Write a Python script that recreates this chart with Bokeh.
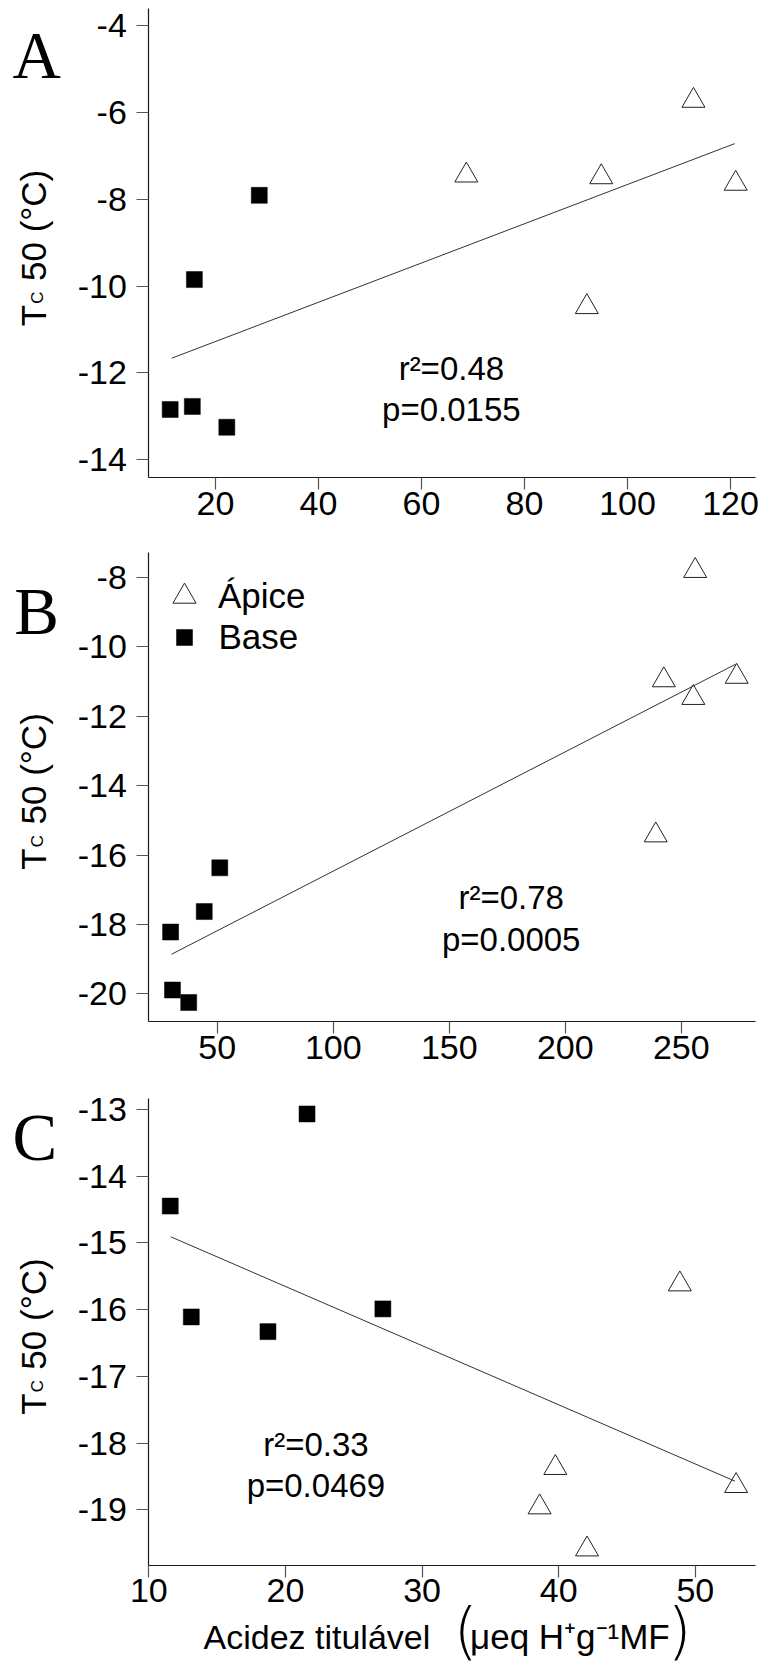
import math
from bokeh.plotting import figure
from bokeh.layouts import column
from bokeh.models import (FixedTicker, Label, Legend, LegendItem, Range1d,
                          LinearAxis, CustomJSTickFormatter)
from bokeh.embed import file_html
from bokeh.resources import INLINE

# ---------------- data ----------------
# Panel A
a_base_x = [28.5, 15.9, 11.2, 15.5, 22.2]
a_base_y = [-7.91, -9.85, -12.84, -12.77, -13.25]
a_apice_x = [68.7, 94.9, 112.8, 121.0, 92.1]
a_apice_y = [-7.45, -7.49, -5.73, -7.64, -10.48]
a_fit_x = [11.5, 120.8]
a_fit_y = [-11.66, -6.72]
a_xlim = (7.05, 124.85)
a_ylim = (-14.414, -3.615)
a_xticks = [20, 40, 60, 80, 100, 120]
a_yticks = [-14, -12, -10, -8, -6, -4]
a_stats = ["r²=0.48", "p=0.0155"]
a_stats_x = 65.8
a_stats_y = [-12.17, -13.11]

# Panel B
b_base_x = [51.1, 44.4, 29.9, 30.7, 37.7]
b_base_y = [-16.37, -17.63, -18.22, -19.89, -20.25]
b_apice_x = [256.0, 242.5, 255.2, 273.9, 239.0]
b_apice_y = [-7.81, -10.96, -11.47, -10.86, -15.43]
b_fit_x = [30.3, 273.5]
b_fit_y = [-18.86, -10.50]
b_xlim = (20.5, 282.0)
b_ylim = (-20.798, -7.268)
b_xticks = [50, 100, 150, 200, 250]
b_yticks = [-20, -18, -16, -14, -12, -10, -8]
b_stats = ["r²=0.78", "p=0.0005"]
b_stats_x = 176.7
b_stats_y = [-17.55, -18.78]

# Panel C
c_base_x = [21.58, 11.57, 13.11, 18.72, 27.13]
c_base_y = [-13.07, -14.45, -16.11, -16.33, -15.99]
c_apice_x = [48.86, 39.75, 38.6, 42.07, 52.98]
c_apice_y = [-15.62, -18.37, -18.96, -19.59, -18.64]
c_fit_x = [11.61, 52.9]
c_fit_y = [-14.91, -18.57]
c_xlim = (10.0, 54.4)
c_ylim = (-19.83, -12.84)
c_xticks = [10, 20, 30, 40, 50]
c_yticks = [-19, -18, -17, -16, -15, -14, -13]
c_stats = ["r²=0.33", "p=0.0469"]
c_stats_x = 22.23
c_stats_y = [-18.19, -18.81]

legend_labels = ["Ápice", "Base"]
x_title = "Acidez titulável"
x_unit = "μeq H⁺g⁻¹MF"

SANS = "Liberation Sans"
SERIF = "Liberation Serif"
THIN = "'DejaVu Sans ExtraLight', 'DejaVu Sans Light', 'Liberation Sans'"
W = 763
PLOT_L, PLOT_R = 148.3, 755.0   # plot-area edges on the page (px)


class Panel:
    """One stacked figure; the frame covers its whole canvas so that every
    text (letters, axis titles) can be placed inside it."""

    def __init__(self, top, height, box_top, box_bot, xlim, ylim,
                 xticks, yticks):
        self.top, self.h = top, height
        self.xlim, self.ylim = xlim, ylim
        self.box_bot = box_bot
        self.ux = (xlim[1] - xlim[0]) / (PLOT_R - PLOT_L)
        self.uy = (ylim[1] - ylim[0]) / (box_bot - box_top)
        bt, bb = box_top - top, box_bot - top
        xr = Range1d(xlim[0] - PLOT_L * self.ux,
                     xlim[1] + (W - PLOT_R) * self.ux)
        yr = Range1d(ylim[0] - (height - bb) * self.uy,
                     ylim[1] + bt * self.uy)
        p = figure(width=W, height=height, x_range=xr, y_range=yr,
                   x_axis_location=None, y_axis_location=None,
                   min_border=0, output_backend="svg", toolbar_location=None,
                   background_fill_color="white", border_fill_color="white")
        p.outline_line_color = None
        p.grid.visible = False
        fmt = CustomJSTickFormatter(code="return String(tick);")
        xa = LinearAxis(fixed_location=ylim[0], bounds=xlim,
                        ticker=FixedTicker(ticks=xticks), formatter=fmt)
        ya = LinearAxis(fixed_location=xlim[0], bounds=ylim,
                        ticker=FixedTicker(ticks=yticks), formatter=fmt)
        for ax in (xa, ya):
            ax.axis_line_color = "#1a1a1a"
            ax.axis_line_width = 1.2
            ax.major_tick_line_color = "#555555"
            ax.major_tick_line_width = 1.2
            ax.major_tick_out = 12
            ax.major_tick_in = 0
            ax.minor_tick_line_color = None
            ax.major_label_text_font = SANS
            ax.major_label_text_font_size = "34px"
            ax.major_label_text_color = "black"
        ya.major_label_standoff = 10
        xa.major_label_standoff = 2
        p.add_layout(xa, "below")
        p.add_layout(ya, "left")
        self.p = p
        self.center = (box_top + box_bot) / 2

    def text(self, px, py, text, size, font=SANS, angle=0.0, align="left",
             shift=0.35):
        """Place text whose baseline starts at page point (px, py)."""
        d = shift * size
        if angle:
            px -= d
        else:
            py -= d
        self.p.add_layout(Label(x=px, y=self.h - (py - self.top),
                                x_units="screen", y_units="screen",
                                text=text, angle=angle, text_font=font,
                                text_font_size=f"{size}px", text_align=align,
                                text_baseline="alphabetic",
                                text_color="black"))

    def page_xy(self, x, y):
        return (PLOT_L + (x - self.xlim[0]) / self.ux,
                self.box_bot - (y - self.ylim[0]) / self.uy)

    def draw(self, base_x, base_y, apice_x, apice_y, fit_x, fit_y,
             stats, stats_x, stats_y, letter, letter_xy):
        p = self.p
        self.sq = p.scatter(base_x, base_y, marker="square", size=16,
                            fill_color="black", line_color="black",
                            line_width=0.5)
        self.tri = p.scatter(apice_x, apice_y, marker="triangle", size=23,
                             fill_color="white", line_color="#222222",
                             line_width=1)
        p.line(fit_x, fit_y, line_color="#333333", line_width=1)
        for t, yy in zip(stats, stats_y):
            px, py = self.page_xy(stats_x, yy)
            self.text(px, py, t, 33, align="center")
        self.text(letter_xy[0], letter_xy[1], letter, 67, font=SERIF,
                  shift=0.45)
        # rotated y title  T_C 50 (°C)
        s = self.center + 82.9
        rot = math.pi / 2
        self.text(45.0, s, "T", 35, angle=rot)
        self.text(43.3, s - 22.5, "C", 17, angle=rot)
        self.text(45.0, s - 45.2, "50 (°C)", 35, angle=rot)


A = Panel(0, 537, 8.3, 477.3, a_xlim, a_ylim, a_xticks, a_yticks)
A.draw(a_base_x, a_base_y, a_apice_x, a_apice_y, a_fit_x, a_fit_y,
       a_stats, a_stats_x, a_stats_y, "A", (12, 85))

B = Panel(537, 551, 551.5, 1021.0, b_xlim, b_ylim, b_xticks, b_yticks)
B.draw(b_base_x, b_base_y, b_apice_x, b_apice_y, b_fit_x, b_fit_y,
       b_stats, b_stats_x, b_stats_y, "B", (13.7, 640.3))

C = Panel(1088, 581, 1098.1, 1564.8, c_xlim, c_ylim, c_xticks, c_yticks)
C.draw(c_base_x, c_base_y, c_apice_x, c_apice_y, c_fit_x, c_fit_y,
       c_stats, c_stats_x, c_stats_y, "C", (12, 1166.4))

# legend in panel B (two legends so each marker keeps its own size)
for item, rend, glyph, left, bottom, standoff in [
        (legend_labels[0], B.tri, 58, 155.0, 624.5, 5),
        (legend_labels[1], B.sq, 40, 163.5, 657.0, 15)]:
    lg = Legend(items=[LegendItem(label=item, renderers=[rend])],
                location=(left, B.h - (bottom - B.top)),
                glyph_width=glyph, glyph_height=glyph,
                label_standoff=standoff, padding=0, margin=0, spacing=0,
                border_line_color=None, background_fill_alpha=0,
                label_text_font=SANS, label_text_font_size="35px",
                label_text_color="black")
    B.p.add_layout(lg)

# x-axis title of panel C
C.text(203.0, 1648.3, x_title, 34)
C.text(453.0, 1652.0, "(", 62, font=THIN)
C.text(469.5, 1648.3, x_unit, 35)
C.text(667.0, 1652.0, ")", 62, font=THIN)

layout = column(A.p, B.p, C.p, spacing=0)
open("out.html", "w").write(file_html(layout, INLINE))
